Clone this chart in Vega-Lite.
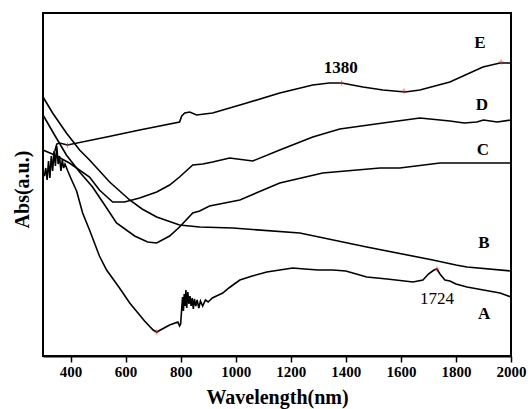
{
  "$schema": "https://vega.github.io/schema/vega-lite/v6.json",
  "width": 468,
  "height": 343,
  "autosize": {"type": "none"},
  "padding": {"left": 43, "top": 13, "right": 21, "bottom": 53},
  "background": "white",
  "config": {
    "view": {"stroke": "black", "strokeWidth": 2},
    "font": "Liberation Serif"
  },
  "datasets": {
    "curves": [
      {"s":"B","w":300,"v":259},{"s":"B","w":335,"v":243},{"s":"B","w":385,"v":223},{"s":"B","w":433,"v":206},{"s":"B","w":469,"v":196},{"s":"B","w":542,"v":174},{"s":"B","w":615,"v":156},{"s":"B","w":660,"v":147},{"s":"B","w":713,"v":139},{"s":"B","w":796,"v":131},{"s":"B","w":869,"v":129},{"s":"B","w":989,"v":128},{"s":"B","w":1233,"v":123},{"s":"B","w":1476,"v":109},{"s":"B","w":1716,"v":96},{"s":"B","w":1800,"v":91},{"s":"B","w":1840,"v":89},{"s":"B","w":2000,"v":85},
      {"s":"C","w":300,"v":241},{"s":"C","w":342,"v":221},{"s":"C","w":385,"v":201},{"s":"C","w":433,"v":184},{"s":"C","w":480,"v":169},{"s":"C","w":524,"v":151},{"s":"C","w":567,"v":133},{"s":"C","w":633,"v":120},{"s":"C","w":680,"v":114},{"s":"C","w":713,"v":113},{"s":"C","w":760,"v":120},{"s":"C","w":796,"v":129},{"s":"C","w":844,"v":143},{"s":"C","w":869,"v":145},{"s":"C","w":905,"v":150},{"s":"C","w":1015,"v":156},{"s":"C","w":1160,"v":173},{"s":"C","w":1316,"v":183},{"s":"C","w":1524,"v":188},{"s":"C","w":1596,"v":188},{"s":"C","w":1742,"v":193},{"s":"C","w":2000,"v":193},
      {"s":"D","w":300,"v":206},{"s":"D","w":342,"v":201},{"s":"D","w":396,"v":193},{"s":"D","w":469,"v":179},{"s":"D","w":505,"v":166},{"s":"D","w":553,"v":154},{"s":"D","w":596,"v":154},{"s":"D","w":651,"v":158},{"s":"D","w":713,"v":164},{"s":"D","w":760,"v":171},{"s":"D","w":796,"v":179},{"s":"D","w":844,"v":191},{"s":"D","w":880,"v":192},{"s":"D","w":916,"v":194},{"s":"D","w":978,"v":198},{"s":"D","w":1062,"v":195},{"s":"D","w":1160,"v":206},{"s":"D","w":1280,"v":219},{"s":"D","w":1378,"v":227},{"s":"D","w":1535,"v":233},{"s":"D","w":1669,"v":238},{"s":"D","w":1778,"v":235},{"s":"D","w":1830,"v":233},{"s":"D","w":1876,"v":234},{"s":"D","w":1900,"v":236},{"s":"D","w":1950,"v":234},{"s":"D","w":2000,"v":236},
      {"s":"E","w":343,"v":205},{"s":"E","w":350,"v":212},{"s":"E","w":360,"v":213},{"s":"E","w":389,"v":211},{"s":"E","w":531,"v":219},{"s":"E","w":651,"v":226},{"s":"E","w":796,"v":234},{"s":"E","w":804,"v":240},{"s":"E","w":815,"v":243},{"s":"E","w":833,"v":244},{"s":"E","w":858,"v":241},{"s":"E","w":916,"v":243},{"s":"E","w":1040,"v":253},{"s":"E","w":1160,"v":263},{"s":"E","w":1280,"v":271},{"s":"E","w":1340,"v":273},{"s":"E","w":1385,"v":273},{"s":"E","w":1462,"v":269},{"s":"E","w":1535,"v":266},{"s":"E","w":1615,"v":264},{"s":"E","w":1669,"v":266},{"s":"E","w":1778,"v":274},{"s":"E","w":1898,"v":289},{"s":"E","w":1960,"v":293},{"s":"E","w":2000,"v":293},
      {"s":"A","w":300,"v":184},{"s":"A","w":305,"v":180},{"s":"A","w":310,"v":188},{"s":"A","w":315,"v":176},{"s":"A","w":320,"v":195},{"s":"A","w":325,"v":178},{"s":"A","w":330,"v":200},{"s":"A","w":335,"v":185},{"s":"A","w":340,"v":205},{"s":"A","w":345,"v":190},{"s":"A","w":350,"v":210},{"s":"A","w":355,"v":192},{"s":"A","w":360,"v":200},{"s":"A","w":365,"v":185},{"s":"A","w":370,"v":196},{"s":"A","w":375,"v":188},{"s":"A","w":380,"v":192},{"s":"A","w":390,"v":185},{"s":"A","w":404,"v":176},{"s":"A","w":422,"v":165},{"s":"A","w":444,"v":143},{"s":"A","w":469,"v":126},{"s":"A","w":505,"v":100},{"s":"A","w":531,"v":86},{"s":"A","w":578,"v":68},{"s":"A","w":615,"v":53},{"s":"A","w":669,"v":35},{"s":"A","w":700,"v":26},{"s":"A","w":713,"v":24},{"s":"A","w":760,"v":31},{"s":"A","w":790,"v":34},{"s":"A","w":796,"v":30},{"s":"A","w":800,"v":32},{"s":"A","w":804,"v":48},{"s":"A","w":807,"v":59},{"s":"A","w":810,"v":45},{"s":"A","w":813,"v":62},{"s":"A","w":816,"v":50},{"s":"A","w":819,"v":66},{"s":"A","w":822,"v":48},{"s":"A","w":826,"v":64},{"s":"A","w":830,"v":52},{"s":"A","w":834,"v":60},{"s":"A","w":838,"v":50},{"s":"A","w":842,"v":58},{"s":"A","w":846,"v":47},{"s":"A","w":850,"v":57},{"s":"A","w":855,"v":50},{"s":"A","w":860,"v":56},{"s":"A","w":866,"v":48},{"s":"A","w":872,"v":55},{"s":"A","w":880,"v":50},{"s":"A","w":890,"v":56},{"s":"A","w":900,"v":54},{"s":"A","w":915,"v":58},{"s":"A","w":930,"v":60},{"s":"A","w":953,"v":63},{"s":"A","w":975,"v":68},{"s":"A","w":1015,"v":76},{"s":"A","w":1060,"v":80},{"s":"A","w":1113,"v":84},{"s":"A","w":1160,"v":86},{"s":"A","w":1207,"v":88},{"s":"A","w":1250,"v":87},{"s":"A","w":1300,"v":86},{"s":"A","w":1353,"v":86},{"s":"A","w":1400,"v":85},{"s":"A","w":1476,"v":79},{"s":"A","w":1550,"v":77},{"s":"A","w":1644,"v":74},{"s":"A","w":1680,"v":76},{"s":"A","w":1700,"v":82},{"s":"A","w":1720,"v":86},{"s":"A","w":1731,"v":87},{"s":"A","w":1742,"v":82},{"s":"A","w":1760,"v":76},{"s":"A","w":1778,"v":75},{"s":"A","w":1800,"v":72},{"s":"A","w":1840,"v":69},{"s":"A","w":1900,"v":66},{"s":"A","w":1960,"v":63},{"s":"A","w":2000,"v":59}
    ],
    "boldlabels": [
      {"w":1887,"v":313,"t":"E"},
      {"w":1894,"v":251,"t":"D"},
      {"w":1898,"v":206,"t":"C"},
      {"w":1902,"v":113,"t":"B"},
      {"w":1902,"v":42,"t":"A"},
      {"w":1382,"v":288,"t":"1380"}
    ],
    "plainlabels": [
      {"w":1731,"v":57,"t":"1724"}
    ],
    "marks": [
      {"w":389,"v":211},{"w":1385,"v":273},{"w":1611,"v":265},{"w":1964,"v":294},{"w":713,"v":24},{"w":1731,"v":87}
    ]
  },
  "layer": [
    {
      "data": {"name": "curves"},
      "mark": {"type": "line", "color": "black", "strokeWidth": 1.6},
      "encoding": {
        "x": {"field": "w", "type": "quantitative",
          "scale": {"domain": [300, 2000], "nice": false, "zero": false},
          "axis": {
            "title": "Wavelength(nm)",
            "titleFont": "Liberation Serif", "titleFontSize": 20, "titleFontWeight": "bold", "titleColor": "black",
            "titlePadding": 8,
            "values": [400,500,600,700,800,900,1000,1100,1200,1300,1400,1500,1600,1700,1800,1900,2000],
            "format": "d",
            "labelExpr": "datum.value % 200 === 0 ? datum.label : ''",
            "labelOverlap": false,
            "labelFont": "Liberation Serif", "labelFontSize": 15, "labelFontWeight": "bold", "labelColor": "black",
            "labelPadding": 2,
            "labelFlush": false,
            "ticks": true,
            "tickSize": 6, "tickColor": "black", "tickWidth": 1.5,
            "domain": true, "domainColor": "black", "domainWidth": 2,
            "grid": false
          }
        },
        "y": {"field": "v", "type": "quantitative",
          "scale": {"domain": [0, 343], "nice": false, "zero": false},
          "axis": {
            "title": "Abs(a.u.)",
            "titleFont": "Liberation Serif", "titleFontSize": 20, "titleFontWeight": "bold", "titleColor": "black",
            "labels": false, "ticks": false, "domain": false, "grid": false,
            "titleX": -11, "titleY": 176
          }
        },
        "detail": {"field": "s"}
      }
    },
    {
      "data": {"name": "marks"},
      "mark": {"type": "point", "shape": "M -1 0 L 1 0 M 0 -1 L 0 1", "filled": false, "stroke": "#e03030", "strokeWidth": 1, "size": 25},
      "encoding": {
        "x": {"field": "w", "type": "quantitative"},
        "y": {"field": "v", "type": "quantitative"}
      }
    },
    {
      "data": {"name": "boldlabels"},
      "mark": {"type": "text", "font": "Liberation Serif", "fontSize": 17, "fontWeight": "bold", "color": "black", "align": "center", "baseline": "middle"},
      "encoding": {
        "x": {"field": "w", "type": "quantitative"},
        "y": {"field": "v", "type": "quantitative"},
        "text": {"field": "t"}
      }
    },
    {
      "data": {"name": "plainlabels"},
      "mark": {"type": "text", "font": "Liberation Serif", "fontSize": 17, "color": "black", "align": "center", "baseline": "middle"},
      "encoding": {
        "x": {"field": "w", "type": "quantitative"},
        "y": {"field": "v", "type": "quantitative"},
        "text": {"field": "t"}
      }
    }
  ]
}
